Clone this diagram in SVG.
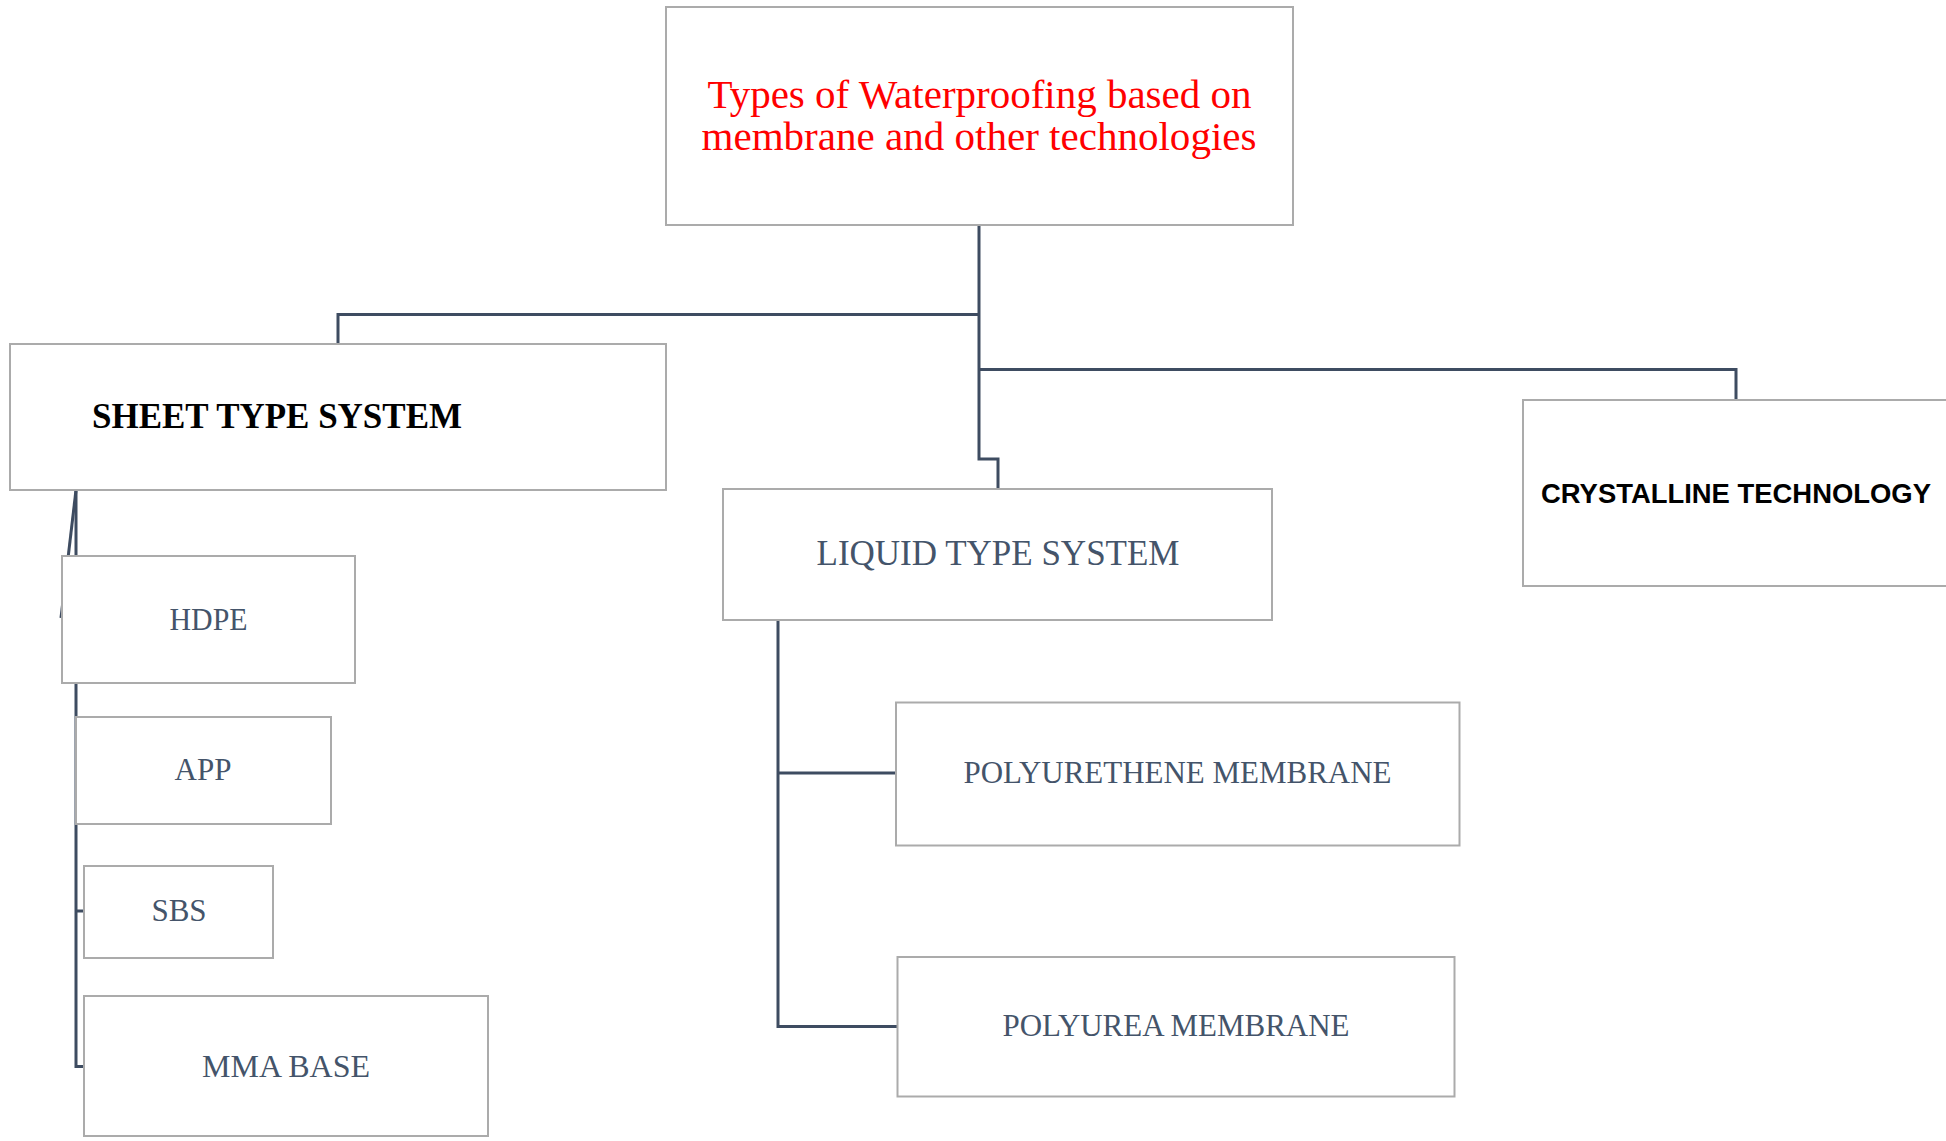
<svg xmlns="http://www.w3.org/2000/svg" width="1946" height="1141" viewBox="0 0 1946 1141">
<style>
.box{fill:#fff;stroke:#ABABAB;stroke-width:2}
.ln{fill:none;stroke:#3E4C61;stroke-width:3}
.t{font-family:"Liberation Serif","Times New Roman",serif;fill:#44546A;text-anchor:middle}
</style>
<rect width="1946" height="1141" fill="#fff"/>
<g id="connectors">
<path class="ln" d="M979,225 V459 H998 V489"/>
<path class="ln" d="M979,314.5 H338 V344"/>
<path class="ln" d="M979,369.5 H1736 V400"/>
<path class="ln" d="M76,490 V1066.5 H84"/>
<path class="ln" d="M76,490 L61,618"/>
<path class="ln" d="M76,911 H84"/>
<path class="ln" d="M778,620 V1026.5 H897"/>
<path class="ln" d="M778,773 H896"/>
</g>
<g id="root">
<rect class="box" x="666" y="7" width="627" height="218"/>
<text x="979.5" y="107.5" font-family="Liberation Serif, serif" font-size="41" fill="#FF0000" text-anchor="middle" textLength="544" lengthAdjust="spacingAndGlyphs">Types of Waterproofing based on</text>
<text x="979" y="149.5" font-family="Liberation Serif, serif" font-size="41" fill="#FF0000" text-anchor="middle" textLength="555" lengthAdjust="spacingAndGlyphs">membrane and other technologies</text>
</g>
<g id="sheet">
<rect class="box" x="10" y="344" width="656" height="146"/>
<text x="92" y="427.5" font-family="Liberation Serif, serif" font-size="36" font-weight="bold" fill="#000" textLength="370" lengthAdjust="spacingAndGlyphs">SHEET TYPE SYSTEM</text>
</g>
<g id="liquid">
<rect class="box" x="723" y="489" width="549" height="131"/>
<text class="t" x="998" y="564.5" font-size="35.5" textLength="363" lengthAdjust="spacingAndGlyphs">LIQUID TYPE SYSTEM</text>
</g>
<g id="crystalline">
<path class="box" d="M1946,400 H1523 V586 H1946"/>
<text x="1736" y="503" font-family="Liberation Sans, Arial, sans-serif" font-size="27.5" font-weight="bold" fill="#000" text-anchor="middle" textLength="390" lengthAdjust="spacingAndGlyphs">CRYSTALLINE TECHNOLOGY</text>
</g>
<g id="hdpe">
<rect class="box" x="62" y="556" width="293" height="127"/>
<text class="t" x="208.5" y="629.5" font-size="31" textLength="78" lengthAdjust="spacingAndGlyphs">HDPE</text>
</g>
<g id="app">
<rect class="box" x="76" y="717" width="255" height="107"/>
<text class="t" x="203" y="780" font-size="31">APP</text>
</g>
<g id="sbs">
<rect class="box" x="84" y="866" width="189" height="92"/>
<text class="t" x="179" y="920.5" font-size="31">SBS</text>
</g>
<g id="mma">
<rect class="box" x="84" y="996" width="404" height="140"/>
<text class="t" x="286" y="1077" font-size="32" textLength="168" lengthAdjust="spacingAndGlyphs">MMA BASE</text>
</g>
<g id="polyurethene">
<rect class="box" x="896" y="702.5" width="563.5" height="143"/>
<text class="t" x="1177.5" y="782.5" font-size="31" textLength="428" lengthAdjust="spacingAndGlyphs">POLYURETHENE MEMBRANE</text>
</g>
<g id="polyurea">
<rect class="box" x="897.5" y="957" width="557" height="139.5"/>
<text class="t" x="1176" y="1035.5" font-size="31" textLength="347" lengthAdjust="spacingAndGlyphs">POLYUREA MEMBRANE</text>
</g>
</svg>
